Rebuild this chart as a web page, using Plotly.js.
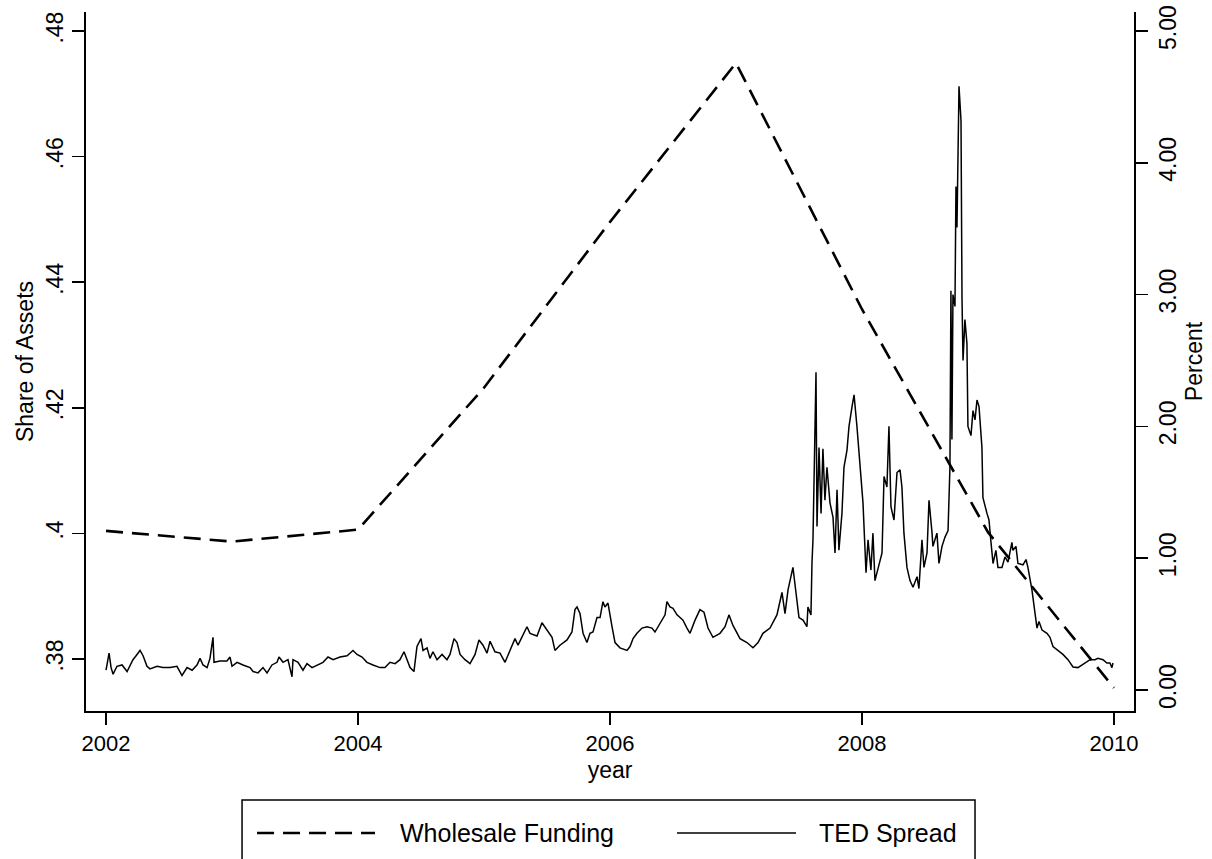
<!DOCTYPE html>
<html>
<head>
<meta charset="utf-8">
<script src="https://cdn.plot.ly/plotly-3.0.1.min.js"></script>
<style>html,body{margin:0;padding:0;background:#fff;}#chart{width:1212px;height:859px;}</style>
</head>
<body>
<div id="chart"></div>
<script>
// Wholesale funding (share of assets), annual
const wfYear = [2002, 2003, 2004, 2005, 2006, 2007, 2008, 2009, 2010];
const wfShare = [0.4004, 0.3987, 0.4006, 0.4232, 0.4496, 0.4749, 0.4357, 0.4002, 0.3754];

// TED spread (percent)
const tedYear = [
2002.000,2002.024,2002.040,2002.056,2002.087,2002.127,2002.167,2002.190,2002.214,2002.246,
2002.270,2002.294,2002.325,2002.349,2002.405,2002.452,2002.508,2002.563,2002.603,2002.643,
2002.683,2002.722,2002.746,2002.770,2002.802,2002.825,2002.849,2002.857,2002.905,2002.960,
2002.984,2003.000,2003.040,2003.087,2003.143,2003.167,2003.206,2003.246,2003.278,2003.317,
2003.357,2003.373,2003.405,2003.444,2003.476,2003.484,2003.524,2003.563,2003.595,2003.635,
2003.675,2003.722,2003.762,2003.802,2003.857,2003.913,2003.960,2003.992,2004.032,2004.071,
2004.119,2004.175,2004.214,2004.254,2004.294,2004.333,2004.365,2004.389,2004.413,2004.444,
2004.468,2004.500,2004.516,2004.548,2004.571,2004.595,2004.627,2004.667,2004.706,2004.730,
2004.762,2004.786,2004.810,2004.849,2004.889,2004.929,2004.960,2004.992,2005.024,2005.048,
2005.087,2005.127,2005.167,2005.206,2005.246,2005.270,2005.310,2005.341,2005.365,2005.421,
2005.460,2005.500,2005.540,2005.563,2005.603,2005.659,2005.698,2005.722,2005.738,2005.762,
2005.786,2005.817,2005.841,2005.865,2005.897,2005.921,2005.944,2005.960,2005.984,2006.016,
2006.040,2006.079,2006.135,2006.159,2006.183,2006.214,2006.254,2006.294,2006.333,2006.357,
2006.397,2006.437,2006.452,2006.476,2006.500,2006.532,2006.556,2006.579,2006.611,2006.635,
2006.675,2006.714,2006.746,2006.778,2006.817,2006.873,2006.913,2006.944,2006.976,2007.032,
2007.087,2007.135,2007.175,2007.214,2007.270,2007.325,2007.365,2007.389,2007.413,2007.452,
2007.476,2007.500,2007.532,2007.563,2007.571,2007.595,2007.603,2007.611,2007.635,2007.643,
2007.659,2007.675,2007.690,2007.706,2007.722,2007.746,2007.770,2007.786,2007.802,2007.817,
2007.841,2007.857,2007.881,2007.897,2007.921,2007.937,2007.960,2007.984,2008.008,2008.032,
2008.048,2008.071,2008.087,2008.103,2008.127,2008.159,2008.175,2008.198,2008.214,2008.230,
2008.254,2008.278,2008.302,2008.317,2008.333,2008.357,2008.381,2008.405,2008.437,2008.452,
2008.476,2008.492,2008.516,2008.532,2008.556,2008.563,2008.595,2008.611,2008.635,2008.659,
2008.683,2008.698,2008.706,2008.714,2008.722,2008.738,2008.746,2008.754,2008.770,2008.786,
2008.794,2008.802,2008.817,2008.833,2008.841,2008.865,2008.881,2008.897,2008.913,2008.929,
2008.952,2008.960,2008.992,2009.008,2009.024,2009.040,2009.063,2009.079,2009.111,2009.135,
2009.159,2009.190,2009.198,2009.222,2009.238,2009.278,2009.302,2009.317,2009.349,2009.373,
2009.389,2009.405,2009.429,2009.468,2009.492,2009.516,2009.556,2009.595,2009.635,2009.675,
2009.714,2009.746,2009.770,2009.810,2009.849,2009.873,2009.913,2009.944,2009.968,2009.984,
2009.992
];
const tedPct = [
0.15,0.28,0.17,0.12,0.18,0.19,0.14,0.18,0.23,0.27,
0.30,0.26,0.18,0.16,0.18,0.17,0.17,0.18,0.11,0.17,
0.15,0.19,0.24,0.19,0.17,0.24,0.40,0.21,0.22,0.22,
0.25,0.18,0.21,0.19,0.17,0.14,0.13,0.17,0.13,0.19,
0.21,0.25,0.21,0.23,0.10,0.23,0.21,0.15,0.20,0.17,
0.19,0.21,0.25,0.23,0.25,0.26,0.30,0.27,0.25,0.21,
0.19,0.17,0.17,0.21,0.20,0.23,0.29,0.23,0.17,0.14,
0.33,0.39,0.30,0.32,0.24,0.29,0.23,0.27,0.23,0.27,
0.39,0.36,0.27,0.23,0.20,0.27,0.38,0.34,0.28,0.37,
0.29,0.28,0.21,0.30,0.39,0.34,0.42,0.48,0.43,0.41,
0.51,0.45,0.40,0.30,0.34,0.38,0.44,0.61,0.63,0.58,
0.43,0.36,0.43,0.44,0.55,0.55,0.67,0.63,0.66,0.48,
0.36,0.32,0.30,0.33,0.39,0.43,0.47,0.48,0.47,0.44,
0.51,0.57,0.67,0.63,0.62,0.57,0.55,0.53,0.47,0.43,
0.53,0.61,0.59,0.47,0.40,0.43,0.48,0.57,0.49,0.39,
0.36,0.32,0.36,0.43,0.47,0.57,0.74,0.58,0.76,0.93,
0.74,0.55,0.53,0.48,0.63,0.57,0.96,1.14,2.41,1.24,
1.84,1.34,1.83,1.44,1.69,1.42,1.31,1.04,1.52,1.06,
1.34,1.69,1.82,2.00,2.15,2.24,2.00,1.69,1.42,0.89,
1.14,0.91,1.19,0.83,0.93,1.04,1.62,1.54,2.00,1.39,
1.29,1.65,1.67,1.54,1.19,0.93,0.83,0.78,0.86,0.77,
1.14,0.93,1.04,1.44,1.19,1.09,1.19,0.96,1.09,1.16,
1.21,1.69,3.03,1.90,3.00,2.91,3.82,3.51,4.58,4.32,
2.96,2.50,2.81,2.63,2.00,1.93,2.12,2.05,2.20,2.15,
1.84,1.46,1.34,1.29,1.12,0.96,1.06,0.93,0.93,1.01,
0.97,1.12,1.06,1.09,0.96,0.95,0.99,0.93,0.76,0.58,
0.47,0.52,0.455,0.43,0.40,0.33,0.30,0.27,0.23,0.175,
0.17,0.19,0.205,0.23,0.23,0.24,0.23,0.205,0.205,0.17,
0.205
];

const xTicks = [2002, 2004, 2006, 2008, 2010];
const leftTicks = [0.38, 0.40, 0.42, 0.44, 0.46, 0.48];
const leftTickText = ['.38', '.4', '.42', '.44', '.46', '.48'];
const rightTicks = [0, 1, 2, 3, 4, 5];
const rightTickText = ['0.00', '1.00', '2.00', '3.00', '4.00', '5.00'];

const FONT = 'Liberation Sans, Arial, Helvetica, sans-serif';

const traces = [
  {
    x: wfYear, y: wfShare, type: 'scatter', mode: 'lines', name: 'Wholesale Funding',
    line: {color: '#000', width: 2.6, dash: '17px,9px'}, yaxis: 'y', hoverinfo: 'x+y'
  },
  {
    x: tedYear, y: tedPct, type: 'scatter', mode: 'lines', name: 'TED Spread',
    line: {color: '#000', width: 1.5}, yaxis: 'y2', hoverinfo: 'x+y'
  }
];

const layout = {
  width: 1212, height: 859,
  margin: {l: 86, r: 78, t: 12, b: 148},
  paper_bgcolor: '#fff', plot_bgcolor: '#fff',
  font: {family: FONT, color: '#000', size: 22},
  showlegend: false,
  xaxis: {
    range: [2001.841, 2010.159], tickvals: xTicks, ticktext: xTicks.map(String),
    ticks: 'outside', ticklen: 12, tickwidth: 1.5, tickcolor: '#000',
    showline: true, linecolor: '#000', linewidth: 2, showgrid: false, zeroline: false,
    tickfont: {size: 22, family: FONT},
    title: {text: 'year', font: {size: 23, family: FONT}, standoff: 6}
  },
  yaxis: {
    range: [0.37172, 0.48303], tickvals: leftTicks, ticktext: leftTickText, tickangle: -90,
    ticks: 'outside', ticklen: 12, tickwidth: 1.5, tickcolor: '#000',
    showline: true, linecolor: '#000', linewidth: 2, showgrid: false, zeroline: false,
    tickfont: {size: 23, family: FONT},
    title: {text: 'Share of Assets', font: {size: 23, family: FONT}, standoff: 2}
  },
  yaxis2: {
    overlaying: 'y', side: 'right',
    range: [-0.1593, 5.144], tickvals: rightTicks, ticktext: rightTickText, tickangle: -90,
    ticks: 'outside', ticklen: 12, tickwidth: 1.5, tickcolor: '#000',
    showline: true, linecolor: '#000', linewidth: 2, showgrid: false, zeroline: false,
    tickfont: {size: 23, family: FONT},
    title: {text: 'Percent', font: {size: 23, family: FONT}, standoff: 4}
  },
  shapes: [
    {type: 'rect', xref: 'paper', yref: 'paper', x0: 0.1489, x1: 0.8483, y0: -0.25, y1: -0.1273,
     line: {color: '#000', width: 1.5}, fillcolor: 'rgba(0,0,0,0)'},
    {type: 'line', xref: 'paper', yref: 'paper', x0: 0.1632, x1: 0.2758, y0: -0.1745, y1: -0.1745,
     line: {color: '#000', width: 2.6, dash: '17px,9px'}},
    {type: 'line', xref: 'paper', yref: 'paper', x0: 0.5639, x1: 0.6775, y0: -0.1745, y1: -0.1745,
     line: {color: '#000', width: 1.5}}
  ],
  annotations: [
    {xref: 'paper', yref: 'paper', x: 0.2977, y: -0.1745, xanchor: 'left', yanchor: 'middle',
     text: 'Wholesale Funding', showarrow: false, font: {size: 25, family: FONT, color: '#000'}},
    {xref: 'paper', yref: 'paper', x: 0.6975, y: -0.1745, xanchor: 'left', yanchor: 'middle',
     text: 'TED Spread', showarrow: false, font: {size: 25, family: FONT, color: '#000'}}
  ]
};

Plotly.newPlot('chart', traces, layout, {displayModeBar: false, staticPlot: true});
</script>
</body>
</html>
